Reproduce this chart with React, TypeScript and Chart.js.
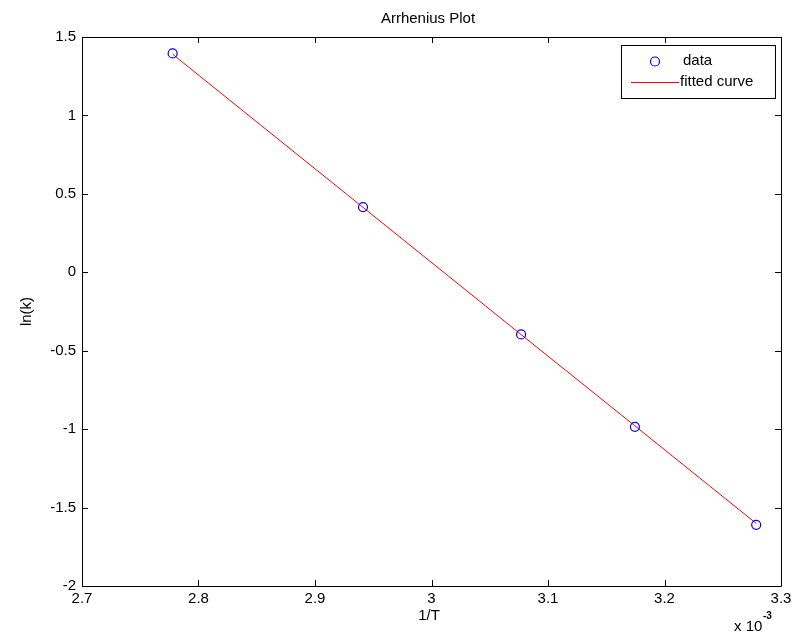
import React, { useEffect, useRef } from "react";
import { Chart, registerables } from "chart.js";

Chart.register(...registerables);

// 1/T values (x 10^-3)
const invT: number[] = [2.7778, 2.9412, 3.0769, 3.1746, 3.2787];
// ln(k) data points
const lnK: number[] = [1.395, 0.416, -0.396, -0.985, -1.61];
// fitted curve values at the same x
const fitted: number[] = [1.39, 0.414, -0.397, -0.979, -1.601];

const xTicks: number[] = [2.7, 2.8, 2.9, 3.0, 3.1, 3.2, 3.3];
const yTicks: number[] = [-2, -1.5, -1, -0.5, 0, 0.5, 1, 1.5];

const TITLE = "Arrhenius Plot";
const XLABEL = "1/T";
const YLABEL = "ln(k)";
const LEGEND = ["data", "fitted curve"];

const FONT = "Liberation Sans";
const FS = 15;
const fmt = (v: number) => String(Number(v.toFixed(3)));

const framePlugin = {
  id: "matlabFrame",
  afterDraw(chart: any) {
    const { ctx, chartArea } = chart;
    const { left, right, top, bottom } = chartArea;
    const xs = chart.scales.x;
    const ys = chart.scales.y;
    ctx.save();
    ctx.strokeStyle = "#000";
    ctx.lineWidth = 1;
    ctx.beginPath();
    ctx.rect(Math.round(left) + 0.5, Math.round(top) + 0.5, Math.round(right - left), Math.round(bottom - top));
    ctx.stroke();
    const tl = 6;
    ctx.beginPath();
    xTicks.forEach((t) => {
      const px = Math.round(xs.getPixelForValue(t)) + 0.5;
      ctx.moveTo(px, bottom);
      ctx.lineTo(px, bottom - tl);
      ctx.moveTo(px, top);
      ctx.lineTo(px, top + tl);
    });
    yTicks.forEach((t) => {
      const py = Math.round(ys.getPixelForValue(t)) + 0.5;
      ctx.moveTo(left, py);
      ctx.lineTo(left + tl, py);
      ctx.moveTo(right, py);
      ctx.lineTo(right - tl, py);
    });
    ctx.stroke();

    // texts
    ctx.fillStyle = "#000";
    ctx.textAlign = "center";
    ctx.textBaseline = "middle";
    ctx.font = `${FS}px ${FONT}`;
    ctx.fillText(TITLE, 428, 19);
    ctx.fillText(XLABEL, 429, 616);
    ctx.save();
    ctx.translate(27, (top + bottom) / 2);
    ctx.rotate(-Math.PI / 2);
    ctx.fillText(YLABEL, 0, 0);
    ctx.restore();
    ctx.textAlign = "left";
    ctx.fillText("x 10", 734, 627);
    ctx.font = `bold 10px ${FONT}`;
    ctx.fillText("-3", 763, 616);

    // legend
    const lx = 621.5, ly = 45.5, lw = 154, lh = 53;
    ctx.fillStyle = "#fff";
    ctx.fillRect(lx, ly, lw, lh);
    ctx.strokeStyle = "#000";
    ctx.strokeRect(lx, ly, lw, lh);
    ctx.strokeStyle = "#0000ff";
    ctx.lineWidth = 1.2;
    ctx.beginPath();
    ctx.arc(655, 61.5, 4.5, 0, Math.PI * 2);
    ctx.stroke();
    ctx.lineWidth = 1;
    ctx.strokeStyle = "#ff0000";
    ctx.beginPath();
    ctx.moveTo(631, 82.5);
    ctx.lineTo(679, 82.5);
    ctx.stroke();
    ctx.fillStyle = "#000";
    ctx.font = `${FS}px ${FONT}`;
    ctx.textAlign = "left";
    ctx.fillText(LEGEND[0], 683, 61);
    ctx.fillText(LEGEND[1], 680, 82);
    ctx.restore();
  },
};

export default function App() {
  const ref = useRef<HTMLCanvasElement | null>(null);
  useEffect(() => {
    if (!ref.current) return;
    const chart = new Chart(ref.current, {
      type: "scatter",
      data: {
        datasets: [
          {
            label: LEGEND[1],
            data: invT.map((x, i) => ({ x, y: fitted[i] })),
            showLine: true,
            borderColor: "#ff0000",
            borderWidth: 1,
            pointRadius: 0,
            order: 2,
          },
          {
            label: LEGEND[0],
            data: invT.map((x, i) => ({ x, y: lnK[i] })),
            showLine: false,
            borderColor: "#0000ff",
            backgroundColor: "rgba(0,0,0,0)",
            pointBorderColor: "#0000ff",
            pointBackgroundColor: "rgba(0,0,0,0)",
            pointBorderWidth: 1.2,
            pointRadius: 4.5,
            order: 1,
          },
        ],
      },
      options: {
        responsive: false,
        animation: false,
        devicePixelRatio: 1,
        layout: { padding: { top: 37, right: 17, left: 0, bottom: 0 } },
        plugins: {
          legend: { display: false },
          title: { display: false },
          tooltip: { enabled: false },
        },
        scales: {
          x: {
            type: "linear",
            min: 2.7,
            max: 3.3,
            afterFit: (s: any) => {
              s.height = 46;
            },
            afterBuildTicks: (s: any) => {
              s.ticks = xTicks.map((v) => ({ value: v }));
            },
            grid: { display: false, drawTicks: false },
            border: { display: false },
            ticks: {
              color: "#000",
              font: { family: FONT, size: FS },
              padding: 4,
              maxRotation: 0,
              autoSkip: false,
              callback: (v: any) => fmt(Number(v)),
            },
          },
          y: {
            type: "linear",
            min: -2,
            max: 1.5,
            afterFit: (s: any) => {
              s.width = 82;
            },
            afterBuildTicks: (s: any) => {
              s.ticks = yTicks.map((v) => ({ value: v }));
            },
            grid: { display: false, drawTicks: false },
            border: { display: false },
            ticks: {
              color: "#000",
              font: { family: FONT, size: FS },
              padding: 6,
              autoSkip: false,
              callback: (v: any) => fmt(Number(v)),
            },
          },
        },
      },
      plugins: [framePlugin],
    });
    return () => chart.destroy();
  }, []);
  return (
    <div style={{ position: "fixed", left: 0, top: 0, width: 798, height: 632, background: "#fff" }}>
      <canvas ref={ref} width={798} height={632} style={{ display: "block" }} />
    </div>
  );
}
